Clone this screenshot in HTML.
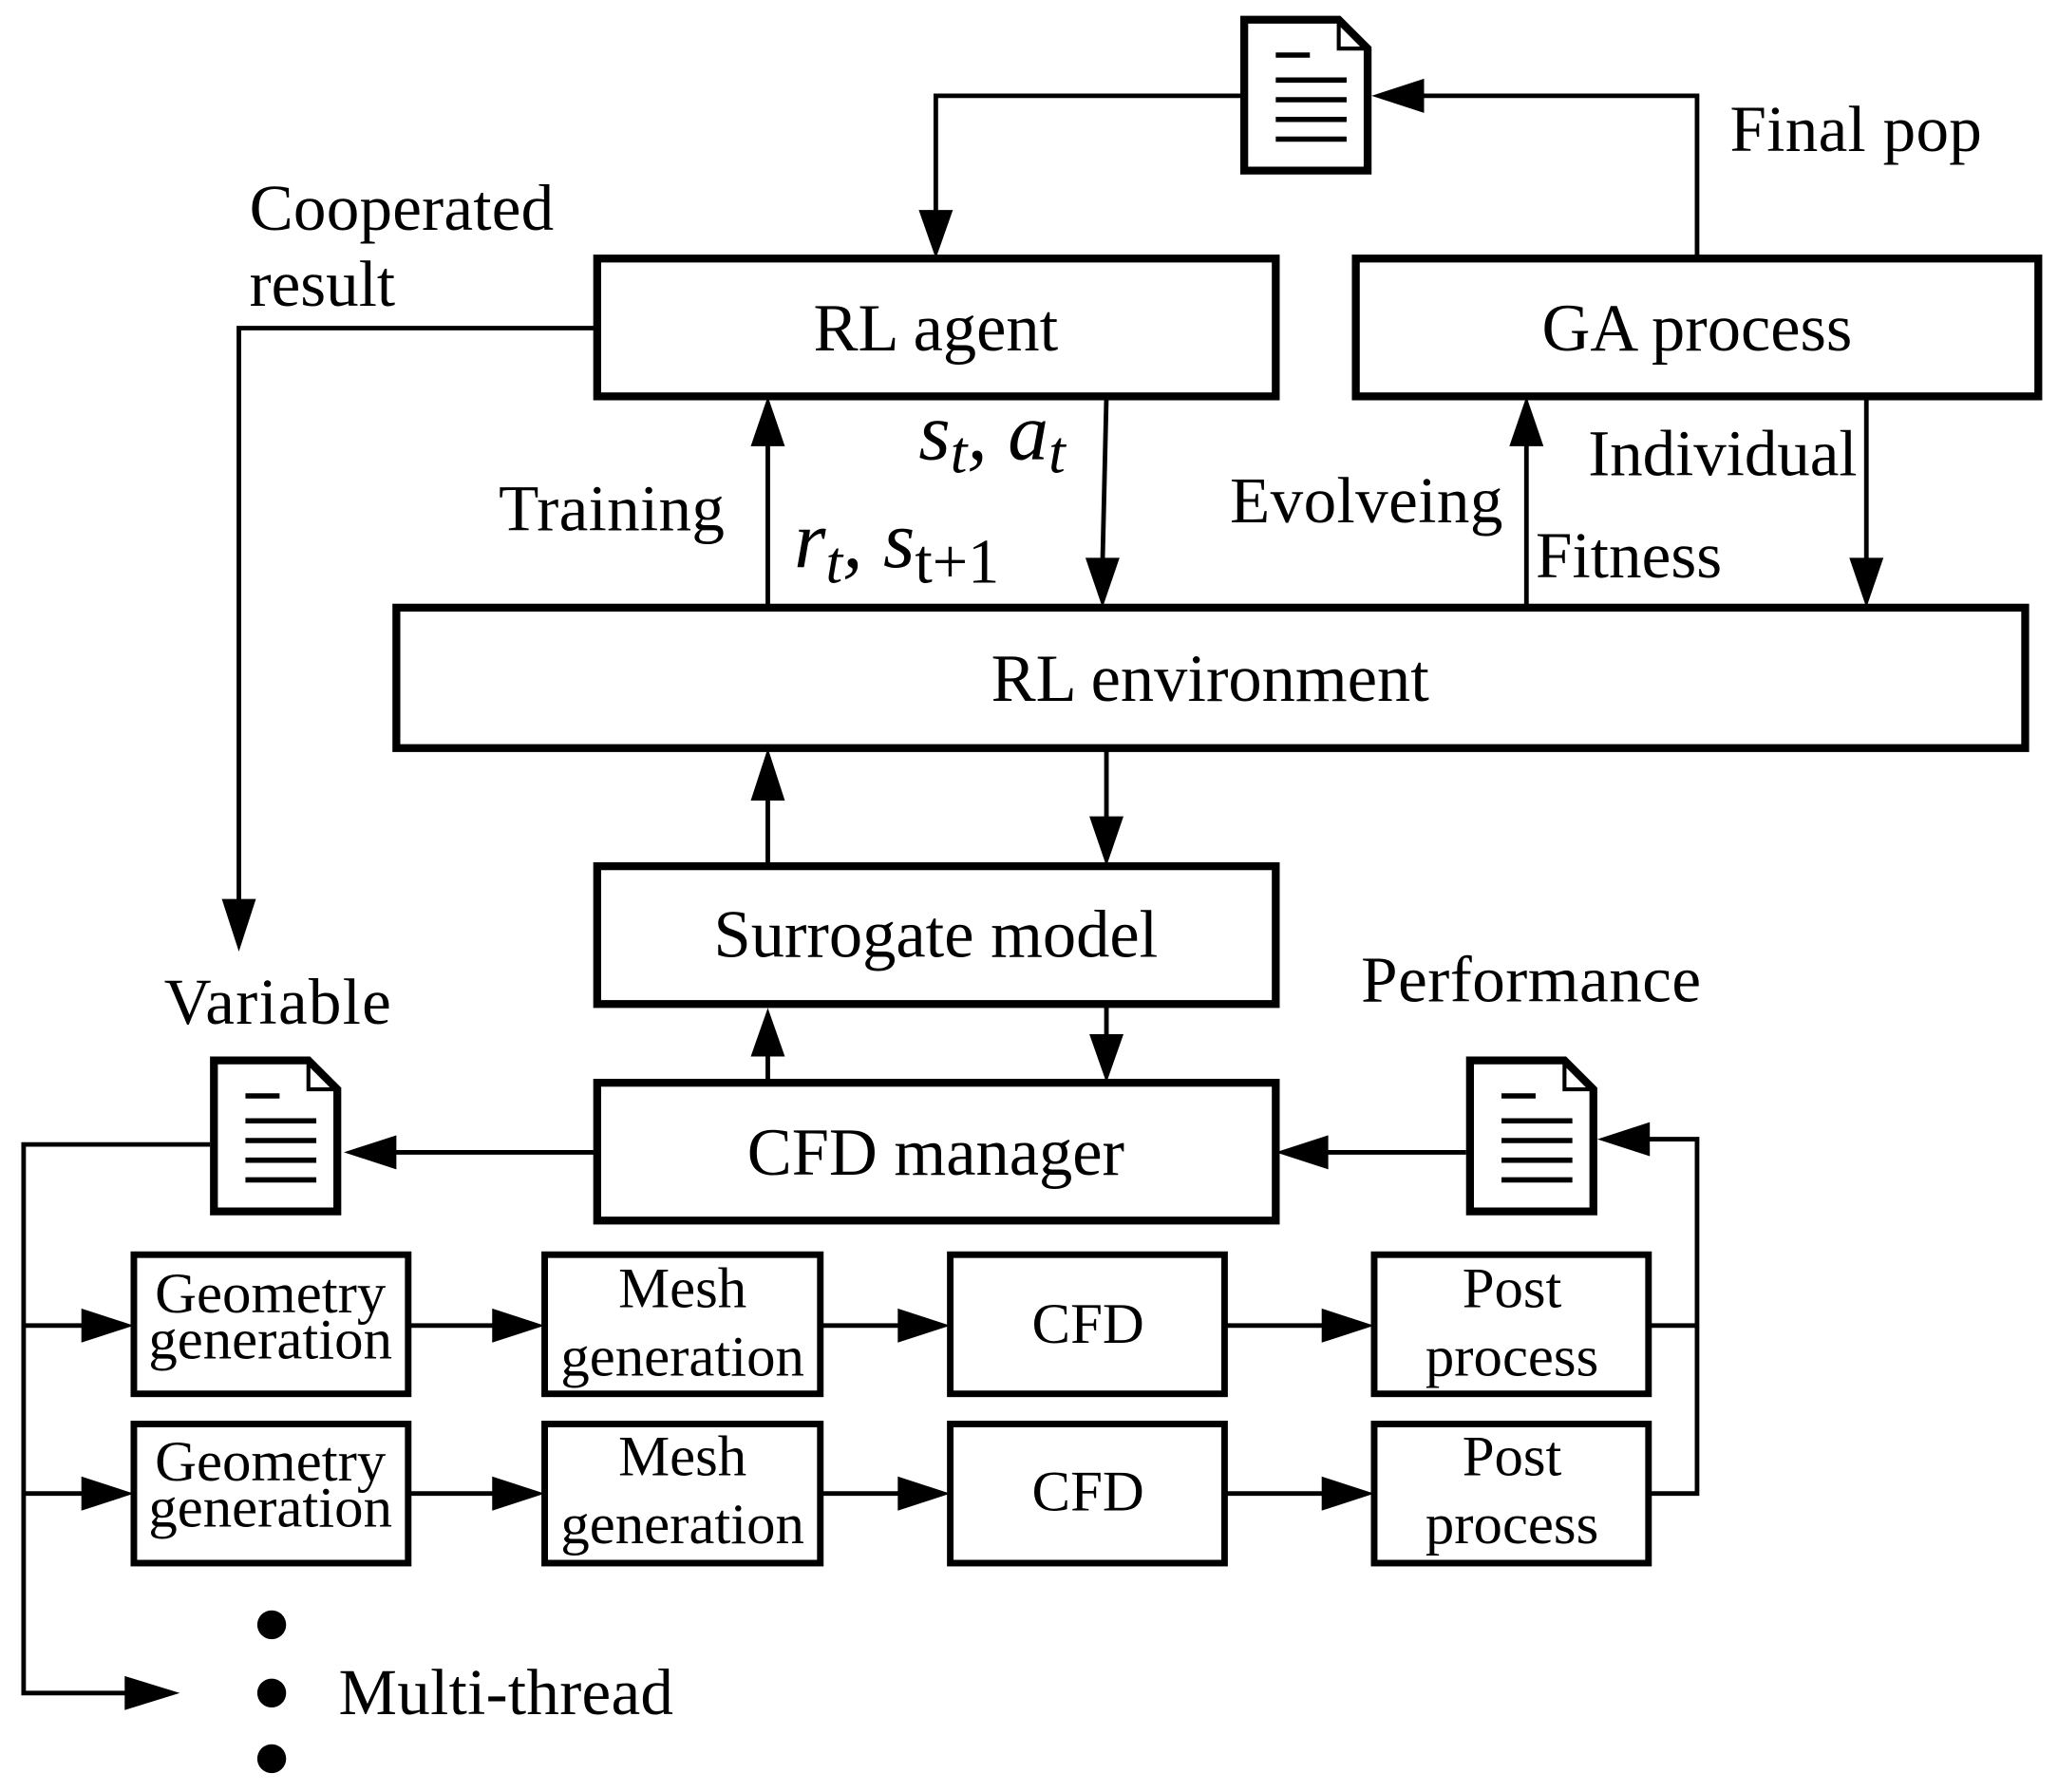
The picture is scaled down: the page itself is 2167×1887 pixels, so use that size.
<!DOCTYPE html>
<html><head><meta charset="utf-8"><style>
html,body{margin:0;padding:0;background:#fff;}
svg{display:block;}
text{font-family:"Liberation Serif",serif;fill:#000;}
.m{font-family:"DejaVu Serif","Liberation Serif",serif;font-style:italic;}
</style></head><body>
<svg width="2167" height="1887" viewBox="0 0 1568 1365.4" preserveAspectRatio="none" xmlns="http://www.w3.org/2000/svg">
<defs>
<g id="doc">
<path d="M3 3 H75 L97 25 V118 H3 Z" fill="#fff" stroke="#000" stroke-width="6"/>
<path d="M75 3 V25 H97" fill="none" stroke="#000" stroke-width="3"/>
<g stroke="#000" stroke-width="4">
<line x1="27" y1="30" x2="53" y2="30"/><line x1="27" y1="49" x2="81" y2="49"/>
<line x1="27" y1="64" x2="81" y2="64"/><line x1="27" y1="79" x2="81" y2="79"/><line x1="27" y1="94" x2="81" y2="94"/>
</g>
</g>
</defs>
<g fill="none" stroke="#000" stroke-width="3.5">
<polyline points="945,73 713,73 713,165"/>
<polyline points="1293,197 1293,73 1080,73"/>
<polyline points="455,250 182,250 182,690"/>
<line x1="585" y1="463" x2="585" y2="335"/>
<line x1="843" y1="302" x2="840" y2="430"/>
<line x1="1163" y1="463" x2="1163" y2="335"/>
<line x1="1422" y1="302" x2="1422" y2="430"/>
<line x1="585" y1="660" x2="585" y2="605"/>
<line x1="843" y1="570" x2="843" y2="625"/>
<line x1="585" y1="825" x2="585" y2="800"/>
<line x1="843" y1="765" x2="843" y2="790"/>
<line x1="455" y1="878" x2="300" y2="878"/>
<line x1="1117" y1="878" x2="1010" y2="878"/>
<polyline points="160,872 18,872 18,1290 100,1290"/>
<line x1="18" y1="1010" x2="70" y2="1010"/>
<line x1="18" y1="1138" x2="70" y2="1138"/>
<polyline points="1256,1010 1293,1010"/>
<polyline points="1256,1138 1293,1138 1293,868 1255,868"/>
<line x1="311" y1="1010" x2="380" y2="1010"/><line x1="625" y1="1010" x2="690" y2="1010"/><line x1="933" y1="1010" x2="1012" y2="1010"/>
<line x1="311" y1="1138" x2="380" y2="1138"/><line x1="625" y1="1138" x2="690" y2="1138"/><line x1="933" y1="1138" x2="1012" y2="1138"/>
</g>
<g fill="#000">
<polygon points="700,160 726,160 713,197"/>
<polygon points="1045,73 1085,60 1085,86"/>
<polygon points="169,685 195,685 182,725"/>
<polygon points="572,340 598,340 585,302"/>
<polygon points="827,425 853,425 840,463"/>
<polygon points="1150,340 1176,340 1163,302"/>
<polygon points="1409,425 1435,425 1422,463"/>
<polygon points="572,610 598,610 585,570"/>
<polygon points="830,622 856,622 843,660"/>
<polygon points="572,805 598,805 585,768"/>
<polygon points="830,788 856,788 843,825"/>
<polygon points="262,878 302,865 302,891"/>
<polygon points="972,878 1012,865 1012,891"/>
<polygon points="1217,868 1257,855 1257,881"/>
<polygon points="137,1290 95,1277 95,1303"/>
<polygon points="102,1010 62,997 62,1023"/><polygon points="102,1138 62,1125 62,1151"/>
<polygon points="415,1010 375,997 375,1023"/><polygon points="415,1138 375,1125 375,1151"/>
<polygon points="724,1010 684,997 684,1023"/><polygon points="724,1138 684,1125 684,1151"/>
<polygon points="1047,1010 1007,997 1007,1023"/><polygon points="1047,1138 1007,1125 1007,1151"/>
<circle cx="207" cy="1238" r="11"/><circle cx="207" cy="1290" r="11"/><circle cx="207" cy="1340" r="11"/>
</g>
<g fill="#fff" stroke="#000" stroke-width="6">
<rect x="455" y="197" width="517" height="105"/>
<rect x="1033" y="197" width="520" height="105"/>
<rect x="302" y="463" width="1241" height="107"/>
<rect x="455" y="660" width="517" height="105"/>
<rect x="455" y="825" width="517" height="105"/>
<g stroke-width="5">
<rect x="102" y="956" width="209" height="106"/><rect x="415" y="956" width="210" height="106"/>
<rect x="724" y="956" width="209" height="106"/><rect x="1047" y="956" width="209" height="106"/>
<rect x="102" y="1085" width="209" height="106"/><rect x="415" y="1085" width="210" height="106"/>
<rect x="724" y="1085" width="209" height="106"/><rect x="1047" y="1085" width="209" height="106"/>
</g>
</g>
<use href="#doc" x="945" y="12"/>
<use href="#doc" x="160" y="805"/>
<use href="#doc" x="1117" y="805"/>
<g font-size="51" text-anchor="middle">
<text x="713" y="267">RL agent</text>
<text x="1293" y="267">GA process</text>
<text x="922" y="534">RL environment</text>
<text x="713" y="729">Surrogate model</text>
<text x="713" y="895">CFD manager</text>
</g>
<g font-size="50">
<text x="1318" y="115" textLength="192">Final pop</text>
<text x="190" y="175" textLength="232">Cooperated</text>
<text x="190" y="233">result</text>
<text x="380" y="404" textLength="172">Training</text>
<text x="937" y="398" textLength="208">Evolveing</text>
<text x="1210" y="362" textLength="205">Individual</text>
<text x="1170" y="440" textLength="142">Fitness</text>
<text x="125" y="780" textLength="173">Variable</text>
<text x="1037" y="763" textLength="259">Performance</text>
<text x="258" y="1306" textLength="255">Multi-thread</text>
</g>
<g font-size="62" class="m">
<text x="700" y="350">s<tspan font-size="46" dy="10">t</tspan><tspan dy="-10">, a</tspan><tspan font-size="46" dy="10">t</tspan></text>
<text x="605" y="432">r<tspan font-size="46" dy="12">t</tspan><tspan dy="-12">, s</tspan><tspan font-size="48" dy="12" font-style="normal">t+1</tspan></text>
</g>
<g font-size="44" text-anchor="middle">
<text x="206" y="1000">Geometry</text><text x="206" y="1035">generation</text>
<text x="520" y="996">Mesh</text><text x="520" y="1048">generation</text>
<text x="829" y="1023">CFD</text>
<text x="1152" y="996">Post</text><text x="1152" y="1048">process</text>
<text x="206" y="1128">Geometry</text><text x="206" y="1163">generation</text>
<text x="520" y="1124">Mesh</text><text x="520" y="1176">generation</text>
<text x="829" y="1151">CFD</text>
<text x="1152" y="1124">Post</text><text x="1152" y="1176">process</text>
</g>
</svg>
</body></html>
